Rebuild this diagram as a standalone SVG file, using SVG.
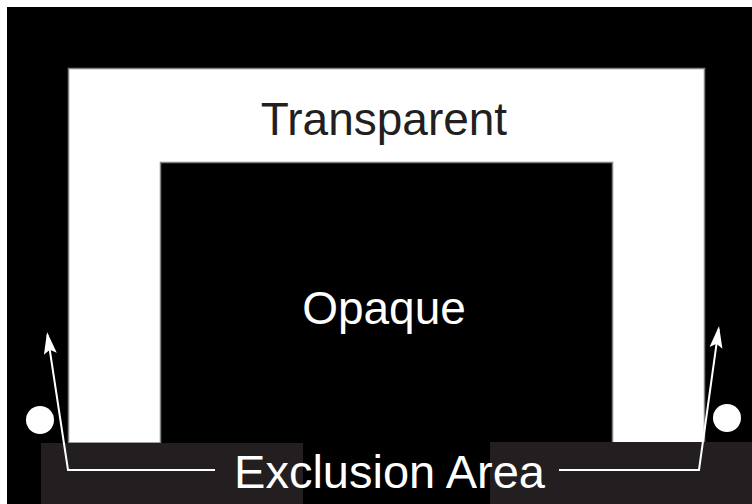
<svg xmlns="http://www.w3.org/2000/svg" width="752" height="504" viewBox="0 0 752 504">
  <style>
    .lbl { font-family: "Liberation Sans", Arial, Helvetica, sans-serif; text-anchor: middle; }
    .band { fill: #231f20; }
    .conn { fill: none; stroke: #ffffff; stroke-width: 2; stroke-linejoin: miter; }
    .dot { fill: #ffffff; }
  </style>
  <defs>
    <marker id="arrow" markerUnits="userSpaceOnUse" viewBox="-23 -7 23 14" markerWidth="23" markerHeight="14" refX="-3" refY="0" orient="auto">
      <path d="M0,0 L-22,-6.5 L-18,0 L-22,6.5 Z" fill="#ffffff"/>
    </marker>
  </defs>
  <rect x="0" y="0" width="752" height="504" fill="#ffffff"/>
  <rect id="background" x="7" y="7" width="745" height="497" fill="#000000"/>
  <g id="transparent">
    <polygon points="68.5,68.5 704.5,68.5 704.5,443 612.5,443 612.5,162.5 160.5,162.5 160.5,443 68.5,443" fill="#ffffff" stroke="#808080" stroke-width="1.5"/>
    <text class="lbl" x="384" y="135" font-size="46" fill="#231f20">Transparent</text>
  </g>
  <g id="opaque">
    <text class="lbl" x="384" y="324" font-size="46" fill="#ffffff">Opaque</text>
  </g>
  <g id="exclusion-area">
    <rect class="band" x="41" y="443" width="262" height="61"/>
    <rect class="band" x="490" y="442" width="262" height="62"/>
    <text class="lbl" x="389.5" y="488" font-size="47" fill="#ffffff">Exclusion Area</text>
  </g>
  <g id="marker-left">
    <circle class="dot" cx="40" cy="420" r="14"/>
  </g>
  <g id="marker-right">
    <circle class="dot" cx="727" cy="418" r="14"/>
  </g>
  <g id="connectors">
    <polyline class="conn" points="215,470 68,470 47.5,335" marker-end="url(#arrow)"/>
    <polyline class="conn" points="559,470 699,470 718.6,329" marker-end="url(#arrow)"/>
  </g>
</svg>
